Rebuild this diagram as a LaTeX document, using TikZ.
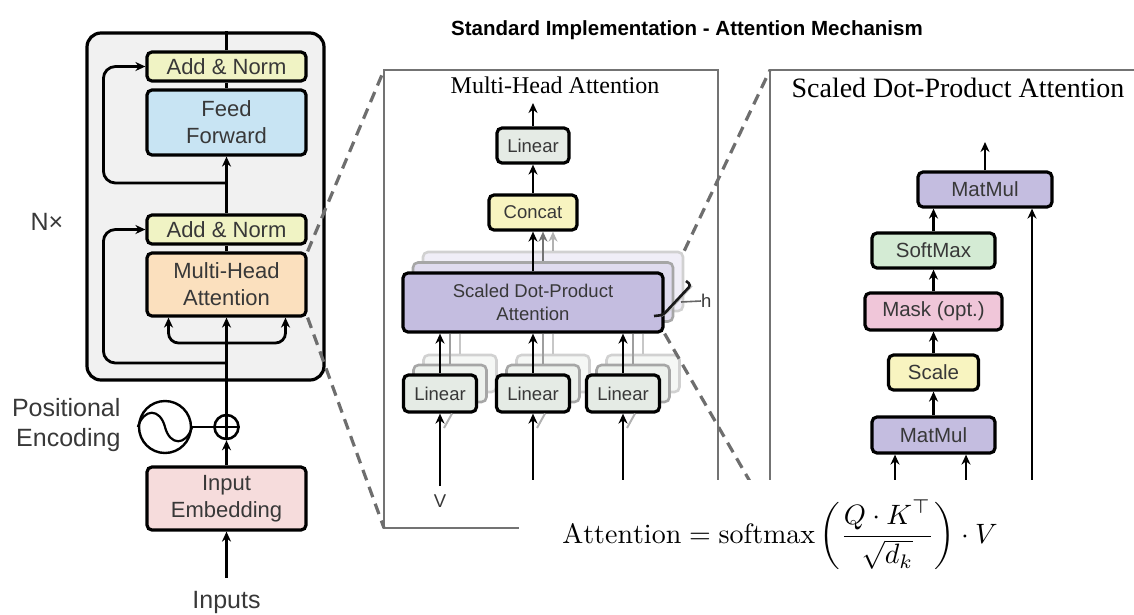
\documentclass[tikz,border=0pt]{standalone}
\usepackage{fontspec}
\usepackage{amsmath}
\usetikzlibrary{arrows.meta,calc}
\newfontfamily\sansf{Liberation Sans}
\newfontfamily\seriff{Liberation Serif}
\definecolor{encgray}{RGB}{241,241,241}
\definecolor{addnorm}{RGB}{240,243,196}
\definecolor{ffblue}{RGB}{200,228,243}
\definecolor{mhaor}{RGB}{251,224,190}
\definecolor{embpink}{RGB}{246,220,220}
\definecolor{lingray}{RGB}{229,235,229}
\definecolor{concaty}{RGB}{248,244,192}
\definecolor{sdpapur}{RGB}{196,189,224}
\definecolor{softg}{RGB}{212,235,212}
\definecolor{maskp}{RGB}{240,198,217}
\definecolor{panelgray}{RGB}{115,115,115}
\definecolor{dashgray}{RGB}{110,110,110}
\tikzset{
 blk/.style={draw=black, line width=3.2pt, rounded corners=5pt, inner sep=0pt, align=center, text=black!78},
 ef/.style={font=\sansf\fontsize{22}{27}\selectfont},
 mf/.style={font=\sansf\fontsize{18.5}{23}\selectfont},
 rf/.style={font=\sansf\fontsize{20.5}{24}\selectfont},
 lf/.style={font=\sansf\fontsize{25}{30}\selectfont, text=black!78},
 arr/.style={line width=2.8pt, -{Stealth[length=10pt,width=9pt]}},
 ln/.style={line width=2.8pt},
 dsh/.style={draw=dashgray, line width=3.2pt, dash pattern=on 11pt off 7pt},
 panel/.style={draw=panelgray, line width=1.8pt},
 ghost/.style={draw, line width=2.6pt, rounded corners=5pt, inner sep=0pt},
}
\begin{document}
\begin{tikzpicture}[x=1pt,y=-1pt]
\useasboundingbox (0,0) rectangle (1134,614);

% title
\node[font=\sansf\bfseries\fontsize{20.5}{24}\selectfont] (title) at (687,30) {Standard Implementation - Attention Mechanism};

% ---------- encoder ----------
\node[draw=black, line width=3.2pt, rounded corners=14pt, fill=encgray, minimum width=237pt, minimum height=347pt] (enc) at (205.5,206.5) {};
\node[blk, ef, fill=addnorm, minimum width=159pt, minimum height=29pt] (an2) at (226.5,66.5) {Add \& Norm};
\node[blk, ef, fill=ffblue, minimum width=159pt, minimum height=65pt] (ff) at (226.5,122.5) {Feed\\Forward};
\node[blk, ef, fill=addnorm, minimum width=159pt, minimum height=29pt] (an1) at (226.5,229.5) {Add \& Norm};
\node[blk, ef, fill=mhaor, minimum width=159pt, minimum height=63pt] (mha) at (226.5,284.5) {Multi-Head\\Attention};
\node[blk, ef, fill=embpink, minimum width=159pt, minimum height=63pt] (emb) at (226.5,498.5) {Input\\Embedding};

\node[circle, draw, line width=2.6pt, minimum size=24pt, inner sep=0pt, fill=white] (plus) at (226.5,427) {};
\draw[line width=2.2pt] (plus.north) -- (plus.south) (plus.west) -- (plus.east);
\node[circle, draw, line width=2.4pt, minimum size=52pt, inner sep=0pt] (pe) at (165,427) {};
\draw[line width=2.2pt] (pe.west) .. controls (144,408) and (160,408) .. (pe.center) .. controls (170,446) and (186,446) .. (pe.east);
\draw[ln] (pe.east) -- (plus.west);

\node[lf] (nx) at (47,222) {N×};
\node[lf, align=right, anchor=east] (pel) at (124,425) {Positional\\Encoding};
\node[lf] (inp) at (226.5,602) {Inputs};

\coordinate (inbot) at (226.5,578);
\draw[arr] (inbot) -- (emb.south);
\draw[arr] (emb.north) -- (plus.south);
\draw[arr] (plus.north) -- (mha.south);
\coordinate (br) at (226.5,343);
\draw[arr, rounded corners=10pt] (br) -| ($(mha.south)+(-58,0)$);
\draw[arr, rounded corners=10pt] (br) -| ($(mha.south)+(59,0)$);
\coordinate (r1) at (226.5,363);
\draw[arr, rounded corners=12pt] (r1) -| ($(an1.west)+(-42,0)$) -- (an1.west);
\coordinate (r2) at (226.5,183);
\draw[arr, rounded corners=12pt] (r2) -| ($(an2.west)+(-42,0)$) -- (an2.west);
\draw[ln] (mha.north) -- (an1.south);
\draw[arr] (an1.north) -- (ff.south);
\draw[ln] (ff.north) -- (an2.south);
\draw[ln] (an2.north) -- (an2.north |- enc.north);

% ---------- middle panel ----------
\coordinate (mpnw) at (384,70);
\coordinate (mpse) at (718,528);
\coordinate (mpsw) at (384,528);
\draw[panel] (mpnw) rectangle (mpse);
\node[font=\seriff\fontsize{24}{28}\selectfont] (mhat) at (555,85) {Multi-Head Attention};

\node[ghost, fill=sdpapur!25, draw=black!18, minimum width=260pt, minimum height=59pt] (sd3) at (553,281.5) {};
\node[ghost, fill=sdpapur!55, draw=black!35, minimum width=260pt, minimum height=59pt] (sd2) at (543,292) {};
\node[blk, mf, fill=sdpapur, minimum width=260pt, minimum height=59pt] (sdpa) at (533,302.5) {Scaled Dot-Product\\Attention};

\node[blk, mf, fill=concaty, minimum width=88pt, minimum height=35pt] (concat) at (533,212.5) {Concat};
\node[blk, mf, fill=lingray, minimum width=72pt, minimum height=35pt] (lin4) at (533,145.5) {Linear};
\coordinate (mhout) at (533,103);
\draw[arr] (lin4.north) -- (mhout);
\draw[arr] (concat.north) -- (lin4.south);
\draw[arr, black!30] (sd3.north) -- (sd3.north |- concat.south);
\draw[arr, black!55] (sd2.north) -- (sd2.north |- concat.south);
\draw[arr] (sdpa.north) -- (concat.south);

\foreach \n/\cx in {1/440,2/533,3/623}{
  \node[ghost, fill=lingray!40, draw=black!18, minimum width=73pt, minimum height=37pt] (l\n c) at (\cx+20,373.5) {};
  \node[ghost, fill=lingray!70, draw=black!35, minimum width=73pt, minimum height=37pt] (l\n b) at (\cx+10,383.5) {};
  \node[blk, mf, fill=lingray, minimum width=73pt, minimum height=37pt] (l\n) at (\cx,393.5) {Linear};
  \draw[ln, black!22] (l\n c.north) -- (l\n c.north |- sdpa.south);
  \draw[ln, black!38] (l\n b.north) -- (l\n b.north |- sdpa.south);
  \draw[arr] (l\n.north) -- (l\n.north |- sdpa.south);
  \coordinate (in\n) at (\cx,486);
  \coordinate (gin\n) at (\cx+4,428);
  \draw[line width=2pt, black!30] (gin\n) -- ($(l\n.south)+(12,0)$);
  \draw[arr] (in\n) -- (l\n.south);
}
\node[mf, text=black!78] (vlab) at (440,501) {V};

% h bracket
\draw[line width=1.6pt, black!25, rounded corners=3pt] (692,286) -- (668,312) -- (662,316);
\draw[line width=2.6pt, black!90, rounded corners=3pt] (686,281) -- (691,285) -- (663,315) -- (654,316);
\coordinate (hb) at (681,302);
\node[mf, anchor=west, inner sep=0pt, text=black!78] (hl) at (701,301) {h};
\draw[line width=1.6pt, black!60] (hb) -- (hl.west);

% ---------- right panel ----------
\coordinate (rpnw) at (770,70);
\coordinate (rpne) at (1140,70);
\coordinate (rpsw) at (770,490);
\draw[panel] (rpne) -- (rpnw) -- (rpsw);
\node[font=\seriff\fontsize{28}{32}\selectfont] (sdt) at (958,88) {Scaled Dot-Product Attention};

\node[blk, rf, fill=sdpapur, minimum width=134pt, minimum height=35pt] (mm2) at (985,189.5) {MatMul};
\node[blk, rf, fill=softg, minimum width=123pt, minimum height=35pt] (sm) at (933.5,250.5) {SoftMax};
\node[blk, rf, fill=maskp, minimum width=137pt, minimum height=37pt] (mask) at (933.5,311.5) {Mask (opt.)};
\node[blk, rf, fill=concaty, minimum width=90pt, minimum height=35pt] (scale) at (933.5,372.5) {Scale};
\node[blk, rf, fill=sdpapur, minimum width=123pt, minimum height=36pt] (mm1) at (933.5,435) {MatMul};
\coordinate (rout) at (985,142);
\draw[arr] (mm2.north) -- (rout);
\draw[arr] (sm.north) -- (sm.north |- mm2.south);
\draw[arr] (mask.north) -- (sm.south);
\draw[arr] (scale.north) -- (mask.south);
\draw[arr] (mm1.north) -- (scale.south);
\coordinate (qin) at (895,495);
\coordinate (kin) at (966,495);
\coordinate (vin) at (1032,495);
\draw[arr] (qin) -- (qin |- mm1.south);
\draw[arr] (kin) -- (kin |- mm1.south);
\draw[arr] (vin) -- (vin |- mm2.south);

% ---------- dashed zoom lines ----------
\draw[dsh] (mha.north east) -- (mpnw);
\draw[dsh] (mha.south east) -- (mpsw);
\draw[dsh] (sd3.north east) -- (rpnw);
\coordinate (dend) at (778,530);
\draw[dsh] (sdpa.south east) -- (dend);

% ---------- formula overlay ----------
\fill[white] (519,480) rectangle (1134,614);
\node (eq) at (780,535) {\scalebox{2.8}{$\displaystyle \mathrm{Attention} = \mathrm{softmax}\left(\frac{Q\cdot K^{\top}}{\sqrt{d_k}}\right)\cdot V$}};
\end{tikzpicture}
\end{document}
